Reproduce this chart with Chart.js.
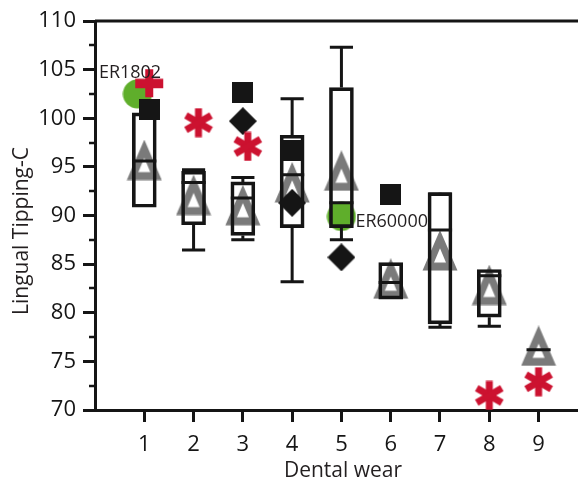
<!DOCTYPE html>
<html>
<head>
<meta charset="utf-8">
<script src="https://cdn.jsdelivr.net/npm/chart.js@4.4.1/dist/chart.umd.min.js"></script>
<style>
  html, body { margin: 0; padding: 0; background: #fff; }
  #wrap { width: 578px; height: 480px; }
</style>
</head>
<body>
<div id="wrap"><canvas id="chart" width="578" height="480" style="width:578px;height:480px"></canvas></div>
<script>
// --- data ---
const categories = [1, 2, 3, 4, 5, 6, 7, 8, 9];

// boxes (outer edges), medians and whiskers per dental-wear stage
const boxLow      = [90.85, 89.05, 87.95, 88.75, 88.75, 81.4, 78.85, 79.55, null];
const boxHigh     = [100.55, 94.55, 93.45, 98.25, 103.15, 85.15, 92.35, 84.45, null];
const boxMedian   = [95.6, 93.4, 91.8, 94.2, 91.3, 83.1, 88.5, 83.8, 76.2];
const whiskerLow  = [null, 86.45, 87.5, 83.2, 87.5, null, 78.5, 78.6, null];
const whiskerHigh = [null, 94.7, 93.9, 102.0, 107.3, null, 92.2, null, null];

// gray triangles (one per stage)
const triangleY = [95.7, 92.1, 91.05, 93.4, 94.6, 83.5, 86.4, 82.85, 76.6];

// individual specimens
const squareX = [1.1, 3.0, 4.0, 6.0];
const squareY = [100.9, 102.6, 96.7, 92.2];
const diamondX = [3.0, 4.0, 5.0];
const diamondY = [99.7, 91.3, 85.7];
const asteriskX = [2.1, 3.1, 8.0, 9.0];
const asteriskY = [99.55, 97.1, 71.5, 72.9];
const crossX = [1.1];
const crossY = [103.6];
const greenCircleX = [0.86, 5.0];
const greenCircleY = [102.5, 89.9];
const greenSquareX = [5.0];
const greenSquareY = [90.1];
const pointLabels = ['ER1802', 'ER60000'];

const yTicks = [70, 72.5, 75, 77.5, 80, 82.5, 85, 87.5, 90, 92.5, 95, 97.5, 100, 102.5, 105, 107.5, 110];

const INK = '#151515';
const GRAY = '#7a7a7a';
const RED = '#cc1230';
const GREEN = '#5fae2b';
const FONT = '"Open Sans", "Noto Sans", sans-serif';

// --- marker images ---
function mkMarker(w, h, draw) {
  const c = document.createElement('canvas');
  c.width = w; c.height = h;
  draw(c.getContext('2d'), w, h);
  return c;
}
const triMarker = mkMarker(36, 41, (g) => {
  g.fillStyle = GRAY;
  g.beginPath();
  g.moveTo(18, 0); g.lineTo(35.5, 40.5); g.lineTo(0.5, 40.5); g.closePath();
  g.moveTo(18, 18.3); g.lineTo(24, 32.5); g.lineTo(12, 32.5); g.closePath();
  g.fill('evenodd');
});
const squareMarker = mkMarker(21, 21, (g, w, h) => { g.fillStyle = INK; g.fillRect(0, 0, w, h); });
const diamondMarker = mkMarker(28, 28, (g) => {
  g.fillStyle = INK;
  g.beginPath(); g.moveTo(14, 0); g.lineTo(28, 14); g.lineTo(14, 28); g.lineTo(0, 14); g.closePath(); g.fill();
});
const asteriskMarker = mkMarker(30, 30, (g) => {
  g.strokeStyle = RED; g.lineWidth = 7; g.lineCap = 'butt';
  [90, 30, -30].forEach(a => {
    const r = a * Math.PI / 180, L = 14.5;
    g.beginPath();
    g.moveTo(15 - Math.cos(r) * L, 15 - Math.sin(r) * L);
    g.lineTo(15 + Math.cos(r) * L, 15 + Math.sin(r) * L);
    g.stroke();
  });
});
const crossMarker = mkMarker(30, 30, (g) => {
  g.fillStyle = RED;
  g.fillRect(1, 10.5, 28, 9.5);
  g.fillRect(11, 1, 8, 28);
});
const circleMarker = mkMarker(30, 30, (g) => {
  g.fillStyle = GREEN; g.beginPath(); g.arc(15, 15, 14.5, 0, Math.PI * 2); g.fill();
});
const gSquareMarker = mkMarker(22, 22, (g, w, h) => { g.fillStyle = GREEN; g.fillRect(0, 0, w, h); });

// --- helpers to build datasets ---
const pts = (xs, ys) => xs.map((x, i) => ({ x, y: ys[i] }));
function markerSet(label, xs, ys, img, order) {
  return { type: 'scatter', label, data: pts(xs, ys), pointStyle: img, pointRadius: 15,
    pointHoverRadius: 15, order, clip: false };
}
function segments(list) {
  // list of [x1, y1, x2, y2] -> line data with gaps
  const out = [];
  list.forEach(([x1, y1, x2, y2]) => { out.push({ x: x1, y: y1 }, { x: x2, y: y2 }, { x: x2, y: null }); });
  return out;
}
function lineSet(label, data, order) {
  return { type: 'line', label, data, borderColor: INK, borderWidth: 3, pointRadius: 0,
    borderCapStyle: 'butt', spanGaps: false, tension: 0, fill: false, order };
}

const HALF = 0.245, CAP = 0.235;
const boxData = categories.map((c, i) => boxLow[i] == null ? null : { x: c, y: [boxLow[i], boxHigh[i]] })
  .filter(Boolean);
const whiskerSegs = [], capSegs = [], medianSegs = [];
categories.forEach((c, i) => {
  if (whiskerHigh[i] != null) {
    whiskerSegs.push([c, boxHigh[i], c, whiskerHigh[i]]);
    capSegs.push([c - CAP, whiskerHigh[i], c + CAP, whiskerHigh[i]]);
  }
  if (whiskerLow[i] != null) {
    whiskerSegs.push([c, boxLow[i], c, whiskerLow[i]]);
    capSegs.push([c - CAP, whiskerLow[i], c + CAP, whiskerLow[i]]);
  }
  medianSegs.push([c - HALF, boxMedian[i], c + HALF, boxMedian[i]]);
});

const decor = {
  id: 'decor',
  afterDatasetsDraw(chart) {
    const { ctx, scales: { x, y } } = chart;
    ctx.save();
    ctx.font = '18px ' + FONT;
    ctx.fillStyle = '#231f20';
    ctx.textAlign = 'left';
    ctx.textBaseline = 'alphabetic';
    ctx.fillText(pointLabels[0], x.getPixelForValue(greenCircleX[0]) - 38.5, y.getPixelForValue(greenCircleY[0]) - 16);
    ctx.fillText(pointLabels[1], x.getPixelForValue(greenSquareX[0]) + 14, y.getPixelForValue(greenSquareY[0]) + 12.7);
    ctx.restore();
  },
  afterDraw(chart) {
    const { ctx, chartArea: a, scales: { y } } = chart;
    ctx.save();
    ctx.strokeStyle = INK;
    ctx.lineWidth = 3;
    ctx.beginPath(); ctx.moveTo(a.left, a.top); ctx.lineTo(a.right, a.top); ctx.stroke();
    // minor ticks
    ctx.lineWidth = 2.5;
    yTicks.filter(v => v % 5 !== 0).forEach(v => {
      const py = Math.round(y.getPixelForValue(v));
      ctx.beginPath(); ctx.moveTo(a.left - 6, py); ctx.lineTo(a.left, py); ctx.stroke();
    });
    // axis titles
    ctx.fillStyle = '#231f20';
    ctx.font = '21px ' + FONT;
    ctx.textAlign = 'center';
    ctx.textBaseline = 'alphabetic';
    ctx.fillText('Dental wear', 343, 477);
    ctx.translate(28, 231);
    ctx.rotate(-Math.PI / 2);
    ctx.fillText('Lingual Tipping-C', 0, 0);
    ctx.restore();
  }
};

new Chart(document.getElementById('chart'), {
  type: 'scatter',
  data: {
    datasets: [
      markerSet('triangles', categories, triangleY, triMarker, 20),
      markerSet('green circles', greenCircleX, greenCircleY, circleMarker, 19),
      markerSet('green square', greenSquareX, greenSquareY, gSquareMarker, 18),
      { type: 'bar', label: 'boxes', data: boxData, barThickness: 24, borderWidth: 3,
        borderColor: INK, backgroundColor: 'rgba(0,0,0,0)', borderSkipped: false, order: 15 },
      lineSet('whiskers', segments(whiskerSegs), 14),
      lineSet('caps', segments(capSegs), 14),
      lineSet('medians', segments(medianSegs), 14),
      markerSet('cross', crossX, crossY, crossMarker, 6),
      markerSet('squares', squareX, squareY, squareMarker, 5),
      markerSet('diamonds', diamondX, diamondY, diamondMarker, 4),
      markerSet('asterisks', asteriskX, asteriskY, asteriskMarker, 3),
    ]
  },
  options: {
    responsive: false,
    animation: false,
    events: [],
    layout: { autoPadding: false, padding: { top: 21, right: 0, left: 0, bottom: 0 } },
    plugins: { legend: { display: false }, tooltip: { enabled: false } },
    scales: {
      x: {
        type: 'linear', min: 0, max: 9.8, offset: false,
        afterFit: s => { s.height = 70; s.paddingLeft = 0; s.paddingRight = 0; },
        afterBuildTicks: s => { s.ticks = categories.map(v => ({ value: v })); },
        grid: { drawOnChartArea: false, drawTicks: true, tickLength: 12, tickWidth: 3, tickColor: INK, offset: false },
        border: { display: true, width: 3, color: INK },
        ticks: { color: INK, font: { family: FONT, size: 22 }, padding: 10, maxRotation: 0, autoSkip: false,
          callback: v => String(v) }
      },
      y: {
        type: 'linear', min: 70, max: 110,
        afterFit: s => { s.width = 95; s.paddingTop = 0; s.paddingBottom = 0; },
        afterBuildTicks: s => { s.ticks = yTicks.map(v => ({ value: v })); },
        grid: { drawOnChartArea: false, drawTicks: true, tickLength: 12, tickWidth: 3,
          tickColor: c => (c.tick && c.tick.value % 5 === 0) ? INK : 'rgba(0,0,0,0)' },
        border: { display: true, width: 3, color: INK },
        ticks: { color: INK, font: { family: FONT, size: 22 }, padding: 7, autoSkip: false,
          callback: v => (v % 5 === 0 ? String(v) : '') }
      }
    }
  },
  plugins: [decor]
});
</script>
</body>
</html>
